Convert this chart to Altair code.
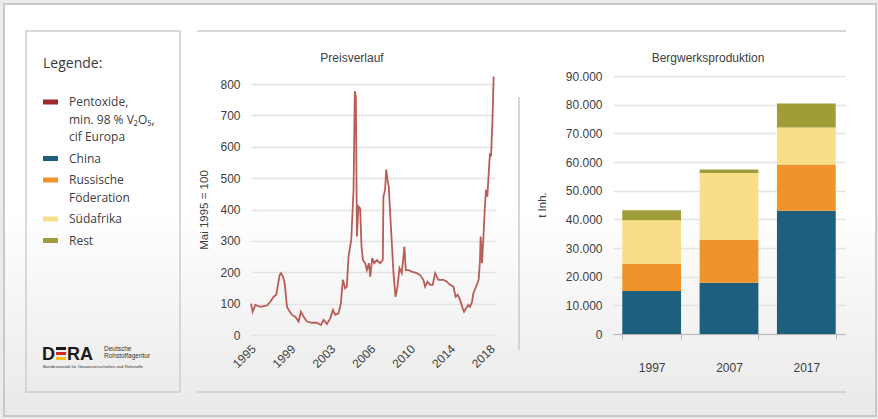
import altair as alt
import pandas as pd

# ---------------------------------------------------------------------------
# Data
# ---------------------------------------------------------------------------
# Vanadium pentoxide price index (min. 98 % V2O5, cif Europa), Mai 1995 = 100
price_year = [
    1995.00, 1995.16, 1995.41, 1995.89, 1996.52, 1996.84, 1997.16, 1997.41,
    1997.54, 1997.73, 1997.86, 1998.05, 1998.21, 1998.43, 1998.59, 1998.90,
    1999.22, 1999.54, 1999.76, 2000.02, 2000.33, 2000.81, 2001.29, 2001.67,
    2001.92, 2002.24, 2002.56, 2002.81, 2003.03, 2003.35, 2003.57, 2003.76,
    2003.98, 2004.14, 2004.30, 2004.56, 2004.78, 2004.90, 2005.00, 2005.10,
    2005.25, 2005.41, 2005.54, 2005.67, 2005.89, 2006.05, 2006.24, 2006.37,
    2006.56, 2006.75, 2007.00, 2007.32, 2007.57, 2007.63, 2007.79, 2007.89,
    2008.02, 2008.14, 2008.27, 2008.43, 2008.59, 2008.78, 2008.97, 2009.16,
    2009.38, 2009.63, 2009.76, 2010.02, 2010.33, 2010.81, 2011.13, 2011.44,
    2011.60, 2011.83, 2012.08, 2012.33, 2012.56, 2012.87, 2013.35, 2013.67,
    2013.98, 2014.30, 2014.52, 2014.71, 2014.94, 2015.19, 2015.32, 2015.51,
    2015.73, 2015.89, 2016.08, 2016.21, 2016.40, 2016.59, 2016.71, 2016.84,
    2016.90, 2017.03, 2017.16, 2017.29, 2017.41, 2017.54, 2017.67, 2017.79,
    2017.89, 2018.02, 2018.14,
]
price_index = [
    100, 74, 96, 90, 94, 106, 122, 128,
    154, 191, 197, 186, 165, 90, 80, 64,
    58, 43, 74, 58, 43, 39, 39, 32,
    48, 35, 53, 80, 64, 69, 101, 176,
    149, 154, 250, 303, 463, 777, 760, 314,
    410, 404, 282, 239, 229, 207, 229, 186,
    245, 229, 239, 229, 239, 441, 463, 527,
    495, 473, 388, 293, 197, 122, 154, 213,
    197, 282, 207, 207, 202, 197, 191, 176,
    154, 170, 160, 160, 197, 176, 176, 170,
    160, 154, 122, 128, 112, 85, 74, 85,
    96, 90, 106, 133, 149, 165, 176, 239,
    314, 229, 309, 399, 463, 441, 516, 580,
    569, 676, 824,
]
price_ticks = [1995 + 3.8 * k for k in range(7)]
price_index_ticks = list(range(0, 801, 100))
PRICE_DOMAIN = [1995, 2018.27]

# Mine production (t contained V)
prod_years = ["1997", "2007", "2017"]
prod_countries = ["China", "Russische Föderation", "Südafrika", "Rest"]
prod_china = [15000, 17900, 43000]
prod_russia = [9400, 14900, 16100]
prod_south_africa = [15300, 23400, 12900]
prod_rest = [3500, 1200, 8400]
prod_ticks = list(range(0, 90001, 10000))

# Legend entries (line breaks as in the printed legend)
legend_labels = [
    "Pentoxide,\nmin. 98 % V\u2082O\u2085,\ncif Europa",
    "China",
    "Russische\nFöderation",
    "Südafrika",
    "Rest",
]
legend_colors = ["#9e2b2b", "#1d5f7d", "#f0932b", "#f9de88", "#a09d38"]
LINE_COLOR = "#b85d57"

FONT = "Liberation Sans"
LEGEND_FONT = "Open Sans"
TEXT = "#404040"
GRID = "#e4e4e4"
FRAME = "#cdcdcd"

one_row = alt.Data(values=[{"k": 1}])

# ---------------------------------------------------------------------------
# Legend panel (origin = top of the plotting row, left edge of the legend box)
# ---------------------------------------------------------------------------
OX, OY = 26, 76  # page position of this panel's origin

def px(x):
    return x - OX

def py(y):
    return y - OY

background = alt.Chart(one_row).mark_rect(fill="#ebebeb").encode(
    x=alt.value(px(0)), x2=alt.value(px(878)),
    y=alt.value(py(0)), y2=alt.value(py(419)),
)
page = alt.Chart(one_row).mark_rect(
    fill=alt.LinearGradient(
        gradient="linear",
        stops=[
            alt.GradientStop(color="#ffffff", offset=0),
            alt.GradientStop(color="#ffffff", offset=0.5),
            alt.GradientStop(color="#e9e9e9", offset=1),
        ],
        x1=0, x2=0, y1=0, y2=1,
    ),
    stroke="#c9c9c9", strokeWidth=2,
).encode(
    x=alt.value(px(4)), x2=alt.value(px(876)),
    y=alt.value(py(4)), y2=alt.value(py(416)),
)
legend_box = alt.Chart(one_row).mark_rect(
    fillOpacity=0, stroke=FRAME, strokeWidth=1.5
).encode(
    x=alt.value(px(26)), x2=alt.value(px(180)),
    y=alt.value(py(31)), y2=alt.value(py(392)),
)
content_top = alt.Chart(one_row).mark_rule(color=FRAME, strokeWidth=1.5).encode(
    x=alt.value(px(197)), x2=alt.value(px(846)), y=alt.value(py(31))
)
content_bottom = alt.Chart(one_row).mark_rule(color=FRAME, strokeWidth=1.5).encode(
    x=alt.value(px(197)), x2=alt.value(px(846)), y=alt.value(py(392))
)
legend_title = alt.Chart(one_row).mark_text(
    text="Legende:", font=LEGEND_FONT, fontSize=14, color="#3a3a3a",
    align="left", baseline="middle",
).encode(x=alt.value(px(43)), y=alt.value(py(64)))

# legend rows: one text row per printed line, a swatch on each entry's first line
LINE_STEP, ENTRY_STEP = 17.5, 21.5
text_rows, swatch_rows = [], []
cursor = 102.0
for label, color in zip(legend_labels, legend_colors):
    lines = label.split("\n")
    swatch_rows.append({"y0": py(cursor) - 2.5, "y1": py(cursor) + 2.5, "c": color})
    for i, ln in enumerate(lines):
        text_rows.append({"t": ln, "y": py(cursor + i * LINE_STEP)})
    cursor += (len(lines) - 1) * LINE_STEP + ENTRY_STEP

legend_swatches = alt.Chart(pd.DataFrame(swatch_rows)).mark_rect().encode(
    x=alt.value(px(43)), x2=alt.value(px(58)),
    y=alt.Y("y0:Q", scale=None), y2="y1:Q",
    color=alt.Color("c:N", scale=None),
)
legend_text = alt.Chart(pd.DataFrame(text_rows)).mark_text(
    font=LEGEND_FONT, fontSize=12, color=TEXT, align="left", baseline="middle"
).encode(
    x=alt.value(px(69)), y=alt.Y("y:Q", scale=None), text="t:N"
)

# DERA logo
logo_d = alt.Chart(one_row).mark_text(
    text="D", font=FONT, fontSize=18, fontWeight="bold", color="#1a1a1a",
    align="left", baseline="alphabetic",
).encode(x=alt.value(px(42)), y=alt.value(py(360)))
logo_e_rows = pd.DataFrame({
    "y0": [py(347), py(352), py(357)],
    "y1": [py(350), py(355), py(360)],
    "c": ["#1a1a1a", "#d7261e", "#f4c318"],
})
logo_e = alt.Chart(logo_e_rows).mark_rect().encode(
    x=alt.value(px(56)), x2=alt.value(px(66)),
    y=alt.Y("y0:Q", scale=None), y2="y1:Q",
    color=alt.Color("c:N", scale=None),
)
logo_ra = alt.Chart(one_row).mark_text(
    text="RA", font=FONT, fontSize=18, fontWeight="bold", color="#1a1a1a",
    align="left", baseline="alphabetic",
).encode(x=alt.value(px(67)), y=alt.value(py(360)))
logo_l1 = alt.Chart(one_row).mark_text(
    text="Deutsche", font=FONT, fontSize=6.5, color="#333333",
    align="left", baseline="middle",
).encode(x=alt.value(px(104)), y=alt.value(py(349)))
logo_l2 = alt.Chart(one_row).mark_text(
    text="Rohstoffagentur", font=FONT, fontSize=6.5, color="#333333",
    align="left", baseline="middle",
).encode(x=alt.value(px(104)), y=alt.value(py(356)))
logo_l3 = alt.Chart(one_row).mark_text(
    text="Bundesanstalt für Geowissenschaften und Rohstoffe", font=FONT,
    fontSize=4.3, color="#333333", align="left", baseline="middle",
).encode(x=alt.value(px(43)), y=alt.value(py(367)))

legend_panel = alt.layer(
    background, page, legend_box, content_top, content_bottom,
    legend_title, legend_swatches, legend_text,
    logo_d, logo_e, logo_ra, logo_l1, logo_l2, logo_l3,
).properties(width=107, height=258)

# ---------------------------------------------------------------------------
# Price chart
# ---------------------------------------------------------------------------
LX, LY = 251, 76
price_df = pd.DataFrame({"Jahr": price_year, "Index": price_index})

price_line = alt.Chart(price_df).mark_line(
    color=LINE_COLOR, strokeWidth=1.8
).encode(
    x=alt.X(
        "Jahr:Q",
        scale=alt.Scale(domain=PRICE_DOMAIN, nice=False, zero=False),
        axis=alt.Axis(
            values=price_ticks, labels=False, grid=False,
            domainColor="#b5b5b5", tickColor="#b5b5b5", tickSize=5,
            title=None,
        ),
    ),
    y=alt.Y(
        "Index:Q",
        scale=alt.Scale(domain=[0, 825.5], nice=False),
        axis=alt.Axis(
            values=price_index_ticks, grid=True, gridColor=GRID, gridWidth=1.5,
            domain=False, ticks=False, labelPadding=11, labelFontSize=12,
            labelColor=TEXT, title=None,
        ),
    ),
)
# slanted year labels, placed through the same x scale as the line
year_labels = alt.Chart(pd.DataFrame({"v": price_ticks})).mark_text(
    font=FONT, fontSize=12, color=TEXT, angle=315, align="right",
    baseline="middle", dx=2, dy=2,
).encode(
    x=alt.X("v:Q", scale=alt.Scale(domain=PRICE_DOMAIN, nice=False, zero=False),
            axis=None),
    y=alt.value(347 - LY),
    text=alt.Text("v:Q", format=".0f"),
)
price_title = alt.Chart(one_row).mark_text(
    text="Preisverlauf", font=FONT, fontSize=12, color=TEXT, baseline="middle"
).encode(x=alt.value(352 - LX), y=alt.value(58 - LY))
price_ytitle = alt.Chart(one_row).mark_text(
    text="Mai 1995 = 100", font=FONT, fontSize=11.5, color=TEXT,
    angle=270, baseline="middle",
).encode(x=alt.value(205 - LX), y=alt.value(210 - LY))
separator = alt.Chart(one_row).mark_rule(color="#c8c8c8", strokeWidth=1.5).encode(
    x=alt.value(519 - LX), y=alt.value(97 - LY), y2=alt.value(350 - LY)
)

price_panel = alt.layer(
    price_line, year_labels, price_title, price_ytitle, separator
).properties(width=244, height=259)

# ---------------------------------------------------------------------------
# Mine production chart
# ---------------------------------------------------------------------------
BX, BY = 613, 76
series = [prod_china, prod_russia, prod_south_africa, prod_rest]
prod_rows = []
for i, year in enumerate(prod_years):
    for k, (country, vals) in enumerate(zip(prod_countries, series)):
        prod_rows.append({"Jahr": year, "Land": country, "t": vals[i], "rang": k})
prod_df = pd.DataFrame(prod_rows)

prod_bars = alt.Chart(prod_df).mark_bar().encode(
    x=alt.X(
        "Jahr:N",
        sort=prod_years,
        scale=alt.Scale(paddingInner=0.24, paddingOuter=0.12),
        axis=alt.Axis(
            labelAngle=0, tickBand="extent", domainColor="#b5b5b5",
            tickColor="#b5b5b5", tickSize=5, labelPadding=23,
            labelFontSize=12, labelColor=TEXT, title=None,
        ),
    ),
    y=alt.Y(
        "t:Q",
        stack="zero",
        scale=alt.Scale(domain=[0, 90000], nice=False),
        axis=alt.Axis(
            values=prod_ticks, grid=True, gridColor=GRID, gridWidth=1.5,
            domain=False, ticks=False, labelPadding=11, labelFontSize=12,
            labelColor=TEXT, title=None,
            labelExpr="replace(format(datum.value, ','), ',', '.')",
        ),
    ),
    color=alt.Color(
        "Land:N",
        scale=alt.Scale(domain=prod_countries, range=legend_colors[1:]),
        legend=None,
    ),
    order=alt.Order("rang:Q", sort="ascending"),
)
prod_title = alt.Chart(one_row).mark_text(
    text="Bergwerksproduktion", font=FONT, fontSize=12, color=TEXT,
    baseline="middle",
).encode(x=alt.value(708 - BX), y=alt.value(58 - BY))
prod_ytitle = alt.Chart(one_row).mark_text(
    text="t Inh.", font=FONT, fontSize=11.5, color=TEXT, angle=270,
    baseline="middle",
).encode(x=alt.value(543 - BX), y=alt.value(205 - BY))

prod_panel = alt.layer(prod_bars, prod_title, prod_ytitle).properties(
    width=232, height=258
)

# ---------------------------------------------------------------------------
chart = (
    alt.hconcat(legend_panel, price_panel, prod_panel, spacing=118, bounds="flush")
    .properties(padding=0, background="white")
    .configure_view(strokeWidth=0)
    .configure_axis(labelFont=FONT)
    .configure_text(font=FONT)
)

chart.save("out.html", embed_options={"renderer": "svg", "actions": False})
